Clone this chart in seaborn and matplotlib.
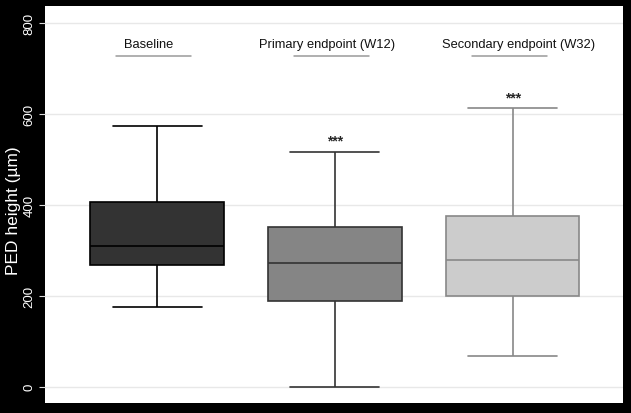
import numpy as np
import pandas as pd
import matplotlib
matplotlib.use("Agg")
import matplotlib.pyplot as plt
import seaborn as sns

groups = ['Baseline', 'Primary endpoint (W12)', 'Secondary endpoint (W32)']
# five-number summaries: min, Q1, median, Q3, max
baseline = [175, 268, 309, 406, 574]
primary = [0, 189, 272, 350, 516]
secondary = [67, 200, 279, 375, 612]
stars = ['', '***', '***']
yticks = [0, 200, 400, 600, 800]

fills = ['#333333', '#858585', '#cccccc']
edges = ['#000000', '#333333', '#888888']
label_shift = [-0.05, -0.042, 0.03]   # Stata doesn't center the group titles exactly

df = pd.DataFrame({'group': np.repeat(groups, 5),
                   'height': baseline + primary + secondary})

sns.set_theme(style='white')
plt.rcParams['font.family'] = ['Liberation Sans', 'DejaVu Sans']

fig = plt.figure(figsize=(6.31, 4.14), dpi=100, facecolor='black')
ax = fig.add_axes([45 / 631, 10 / 414, 578 / 631, 397 / 414])
ax.set_facecolor('white')

for i, g in enumerate(groups):
    sub = df[df['group'] == g]
    sns.boxplot(data=sub, x='group', y='height', order=groups, whis=(0, 100),
                width=0.75, color=fills[i], linecolor=edges[i], linewidth=1.2,
                saturation=1, ax=ax, capwidths=0.5)
    top = sub['height'].max()
    # group label with short underline, Stata style
    ax.text(i + label_shift[i], 753, g, ha='center', va='center', fontsize=9.3,
            color='#111111')
    ax.plot([i - 0.23, i + 0.19], [726, 726], color='#9a9a9a', lw=1.1)
    if stars[i]:
        ax.annotate(stars[i], xy=(i, top), xytext=(0, 3), textcoords='offset points',
                    ha='center', va='bottom', fontsize=10, fontweight='bold')

ax.set_xlim(-0.63, 2.62)
ax.set_ylim(-36, 837)
ax.set_xticks([])
ax.set_xlabel('')
ax.set_yticks(yticks)
ax.yaxis.grid(True, color='#e8e8e8', lw=1)
ax.set_axisbelow(True)
for s in ax.spines.values():
    s.set_visible(False)

ax.tick_params(axis='y', left=True, colors='#dddddd', labelcolor='white',
               length=4.3, width=0.8, direction='out', labelsize=9.5, pad=2.5)
for lab in ax.get_yticklabels():
    lab.set_rotation(90)
    lab.set_va('center')

ax.set_ylabel('PED height (\u00b5m)', color='white', fontsize=12.5)
ax.yaxis.set_label_coords(-0.042, 0.487)

fig.savefig('out.png', dpi=100, facecolor=fig.get_facecolor())
